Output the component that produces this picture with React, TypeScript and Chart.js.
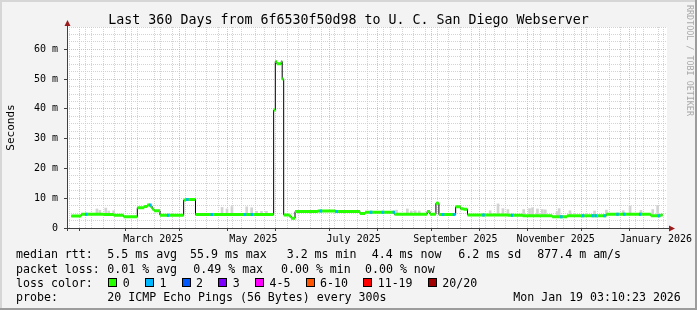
import { useEffect, useRef } from 'react';
import { Chart, registerables } from 'chart.js';

Chart.register(...registerables);

// ---------- text ----------
const TITLE = 'Last 360 Days from 6f6530f50d98 to U. C. San Diego Webserver';
const Y_AXIS_TITLE = 'Seconds';
const WATERMARK = 'RRDTOOL / TOBI OETIKER';

// ---------- x axis (days since 2025-01-01 00:00) ----------
const startDay = 23.13; // Jan 24 2025 03:10
const endDay = 383.13; // Jan 19 2026 03:10
const monthStartDays = [31, 59, 90, 120, 151, 181, 212, 243, 273, 304, 334, 365];
const monthLabelDays = [73, 134, 195, 257, 318, 379];
const monthLabels = ['March 2025', 'May 2025', 'July 2025', 'September 2025', 'November 2025', 'January 2026'];
const firstSundayDay = 4; // 2025-01-05

// ---------- y axis (ms) ----------
const yMax = 67.5;
const yTickValues = [0, 2.5, 5, 7.5, 10, 12.5, 15, 17.5, 20, 22.5, 25, 27.5, 30, 32.5, 35, 37.5, 40, 42.5, 45, 47.5, 50, 52.5, 55, 57.5, 60, 62.5, 65, 67.5];

// ---------- median rtt (step series) ----------
const medianDays = [23.1, 29.1, 42.9, 48.9, 54.9, 63.3, 67.5, 69.3, 71.1, 72.3, 73.5, 77.1, 91.5, 92.7, 98.7, 146.3, 147.3, 148.2, 150.9, 151.5, 152.4, 155.7, 156.9, 159.3, 173.1, 183.9, 198.9, 201.9, 219.9, 239.7, 241.5, 245.1, 246.9, 257.1, 260.1, 261.9, 264.3, 288.9, 297.9, 315.9, 324.9, 348.9, 375.9, 381.9];
const medianMs = [4.0, 4.6, 4.5, 4.3, 3.8, 6.8, 7.2, 7.7, 7.3, 6.4, 5.8, 4.3, 9.4, 9.6, 4.5, 39.6, 55.9, 55.2, 55.9, 50.0, 4.4, 4.0, 3.3, 5.5, 5.7, 5.5, 4.9, 5.3, 4.6, 5.5, 4.6, 8.3, 4.5, 7.1, 6.5, 6.3, 4.4, 4.3, 4.1, 3.8, 4.1, 4.6, 4.1, 4.4];

// ---------- periods with 1 lost ping ----------
const loss1Days = [31.5, 70.5, 81.3, 93.0, 107.9, 128.1, 132.3, 174.3, 183.9, 204.9, 212.1, 218.7, 248.7, 255.3, 273.3, 290.7, 320.7, 333.9, 339.9, 341.7, 347.1, 354.9, 359.1, 368.7, 380.1];

// ---------- smoke (ping spread) ----------
const smokeDays = [38.7, 40.5, 44.1, 45.9, 48.9, 114.9, 117.9, 120.9, 129.9, 132.9, 135.9, 138.9, 141.9, 221.1, 227.7, 230.1, 232.5, 234.9, 278.1, 282.9, 285.9, 288.9, 298.5, 302.1, 303.9, 306.9, 309.9, 311.7, 318.9, 320.1, 326.7, 341.7, 348.9, 359.1, 363.3, 369.9, 377.1, 380.1];
const smokeLow = [4.5, 4.5, 4.5, 4.3, 4.3, 4.5, 4.5, 4.5, 4.5, 4.5, 4.5, 4.5, 4.5, 4.6, 4.6, 4.6, 4.6, 4.6, 4.4, 4.4, 4.4, 4.3, 4.1, 4.1, 4.1, 4.1, 4.1, 4.1, 3.8, 3.8, 4.1, 4.1, 4.6, 4.6, 4.6, 4.6, 4.6, 4.4];
const smokeHigh = [6.4, 5.9, 6.7, 5.7, 5.8, 6.9, 6.4, 7.2, 7.1, 6.8, 5.6, 5.6, 5.6, 6.0, 6.4, 5.7, 5.8, 5.7, 5.8, 8.1, 6.5, 6.2, 6.2, 6.5, 6.8, 6.4, 6.2, 6.1, 5.5, 6.5, 5.8, 5.7, 6.0, 5.8, 7.4, 5.9, 6.2, 7.6];

// ---------- legend ----------
const rttLabels = ['5.5 ms avg', '55.9 ms max', '3.2 ms min', '4.4 ms now', '6.2 ms sd', '877.4 m am/s'];
const lossLabels = ['0.01 % avg', '0.49 % max', '0.00 % min', '0.00 % now'];
const lossColorLabels = ['0', '1', '2', '3', '4-5', '6-10', '11-19', '20/20'];
const lossColors = ['#26ff00', '#00b8ff', '#0059ff', '#7e00ff', '#ff00fe', '#ff5500', '#ff0000', '#a10000'];
const probeText = '20 ICMP Echo Pings (56 Bytes) every 300s';
const timestampText = 'Mon Jan 19 03:10:23 2026';

// ---------- styling ----------
const MONO = '"DejaVu Sans Mono", monospace';
const MAJOR_GRID = 'rgba(240,150,150,0.7)';
const MINOR_GRID = 'rgba(200,200,200,0.8)';
const AXIS_COLOR = '#404040';
const ARROW_COLOR = '#9b1c1c';
const rttX = [107.3, 190, 286.7, 371.7, 458.3, 537.3];
const lossX = [107.3, 193.3, 281, 365];

function medianAt(day: number): number {
  let v = medianMs[0];
  for (let i = 0; i < medianDays.length; i++) {
    if (medianDays[i] <= day) v = medianMs[i];
  }
  return v;
}

function buildXTicks() {
  const set = new Set<number>();
  monthStartDays.forEach((d) => set.add(d));
  monthLabelDays.forEach((d) => set.add(d));
  for (let d = firstSundayDay; d <= endDay; d += 7) {
    if (d >= startDay) set.add(d);
  }
  return Array.from(set).sort((a, b) => a - b);
}

const decorPlugin = {
  id: 'rrdDecor',
  beforeDraw(chart: any) {
    const { ctx, chartArea: a, width, height } = chart;
    ctx.save();
    ctx.fillStyle = '#f3f3f3';
    ctx.fillRect(0, 0, width, height);
    ctx.fillStyle = '#d6d6d6';
    ctx.fillRect(0, 0, width, 2);
    ctx.fillRect(0, 0, 2, height);
    ctx.fillStyle = '#9c9c9c';
    ctx.fillRect(0, height - 2, width, 2);
    ctx.fillRect(width - 2, 0, 2, height);
    ctx.fillStyle = '#ffffff';
    ctx.fillRect(a.left, a.top, a.right - a.left, a.bottom - a.top);
    ctx.restore();
  },
  afterDatasetsDraw(chart: any) {
    const { ctx, chartArea: a } = chart;
    ctx.save();
    ctx.strokeStyle = AXIS_COLOR;
    ctx.lineWidth = 1;
    ctx.beginPath();
    ctx.moveTo(a.left + 0.5, a.bottom + 3);
    ctx.lineTo(a.left + 0.5, a.top - 4);
    ctx.moveTo(a.left - 3, a.bottom + 0.5);
    ctx.lineTo(a.right + 3, a.bottom + 0.5);
    ctx.stroke();
    ctx.fillStyle = ARROW_COLOR;
    ctx.beginPath();
    ctx.moveTo(a.left + 0.5, a.top - 7);
    ctx.lineTo(a.left - 2.5, a.top - 1);
    ctx.lineTo(a.left + 3.5, a.top - 1);
    ctx.closePath();
    ctx.fill();
    ctx.beginPath();
    ctx.moveTo(a.right + 8, a.bottom + 0.5);
    ctx.lineTo(a.right + 2, a.bottom - 2.5);
    ctx.lineTo(a.right + 2, a.bottom + 3.5);
    ctx.closePath();
    ctx.fill();
    ctx.restore();
  },
  afterDraw(chart: any) {
    const { ctx, width } = chart;
    ctx.save();
    // title
    ctx.fillStyle = '#000';
    ctx.font = `13.3px ${MONO}`;
    ctx.textAlign = 'center';
    ctx.textBaseline = 'alphabetic';
    ctx.fillText(TITLE, width / 2, 23.5);

    // watermark
    ctx.save();
    ctx.translate(686, 5);
    ctx.rotate(Math.PI / 2);
    ctx.fillStyle = '#a8a8a8';
    ctx.font = `8.4px ${MONO}`;
    ctx.textAlign = 'left';
    ctx.textBaseline = 'middle';
    ctx.fillText(WATERMARK, 0, -3.5);
    ctx.restore();

    // legend
    ctx.font = `11.6px ${MONO}`;
    ctx.textAlign = 'left';
    ctx.textBaseline = 'alphabetic';
    ctx.fillStyle = '#000';
    const rows = [258.3, 272.6, 286.9, 301.2];
    ctx.fillText('median rtt:', 16, rows[0]);
    rttLabels.forEach((t, i) => ctx.fillText(t, rttX[i], rows[0]));
    ctx.fillText('packet loss:', 16, rows[1]);
    lossLabels.forEach((t, i) => ctx.fillText(t, lossX[i], rows[1]));
    ctx.fillText('loss color:', 16, rows[2]);
    let x = 108.3;
    lossColorLabels.forEach((t, i) => {
      ctx.fillStyle = lossColors[i];
      ctx.fillRect(Math.round(x), 278, 9, 9);
      ctx.strokeStyle = '#000';
      ctx.lineWidth = 1;
      ctx.strokeRect(Math.round(x) + 0.5, 278.5, 8, 8);
      ctx.fillStyle = '#000';
      const lx = x + 14.4;
      ctx.fillText(t, lx, rows[2]);
      x = lx + ctx.measureText(t).width + 15.3;
    });
    ctx.fillText('probe:', 16, rows[3]);
    ctx.fillText(probeText, 107.3, rows[3]);
    ctx.fillText(timestampText, 513.3, rows[3]);
    ctx.restore();
  },
};

export default function App() {
  const ref = useRef<HTMLCanvasElement | null>(null);

  useEffect(() => {
    document.body.style.margin = '0';
    const canvas = ref.current;
    if (!canvas) return;

    const blackData = medianDays.map((d, i) => ({ x: d, y: medianMs[i] }));
    blackData.push({ x: endDay, y: medianMs[medianMs.length - 1] });

    const greenData: { x: number; y: number | null }[] = [];
    medianDays.forEach((d, i) => {
      const next = i < medianDays.length - 1 ? medianDays[i + 1] : endDay;
      greenData.push({ x: d, y: medianMs[i] }, { x: next, y: medianMs[i] }, { x: next, y: null });
    });

    const blueData: { x: number; y: number | null }[] = [];
    loss1Days.forEach((d) => {
      const v = medianAt(d);
      blueData.push({ x: d, y: v }, { x: d + 1.5, y: v }, { x: d + 1.5, y: null });
    });

    const smokeData = smokeDays.map((d, i) => ({ x: d, y: [smokeLow[i], smokeHigh[i]] }));

    const xTicks = buildXTicks();

    const chart = new Chart(canvas, {
      type: 'line',
      data: {
        datasets: [
          {
            type: 'bar',
            data: smokeData as any,
            backgroundColor: '#d2d2d2',
            barThickness: 2,
            order: 10,
          } as any,
          {
            data: blackData,
            borderColor: '#000000',
            borderWidth: 1,
            stepped: true,
            pointRadius: 0,
            fill: false,
            order: 5,
          },
          {
            data: greenData as any,
            borderColor: lossColors[0],
            borderWidth: 3,
            pointRadius: 0,
            fill: false,
            spanGaps: false,
            borderCapStyle: 'butt',
            order: 3,
          },
          {
            data: blueData as any,
            borderColor: lossColors[1],
            borderWidth: 3,
            pointRadius: 0,
            fill: false,
            spanGaps: false,
            borderCapStyle: 'butt',
            order: 1,
          },
        ],
      },
      options: {
        responsive: false,
        animation: false,
        devicePixelRatio: 1,
        events: [],
        layout: { padding: { top: 27, right: 30, bottom: 0, left: 0 } },
        plugins: {
          legend: { display: false },
          title: { display: false },
          tooltip: { enabled: false },
        },
        scales: {
          x: {
            type: 'linear',
            min: startDay,
            max: endDay,
            afterBuildTicks: (scale: any) => {
              scale.ticks = xTicks.map((v) => ({ value: v }));
            },
            afterFit: (scale: any) => {
              scale.height = 82;
            },
            border: { display: false, dash: [1, 1] },
            grid: {
              color: (c: any) => {
                const v = c.tick ? c.tick.value : 0;
                if (monthLabelDays.includes(v)) return 'rgba(0,0,0,0)';
                if (monthStartDays.includes(v)) return MAJOR_GRID;
                return MINOR_GRID;
              },
              tickColor: (c: any) => {
                const v = c.tick ? c.tick.value : 0;
                return monthStartDays.includes(v) ? AXIS_COLOR : 'rgba(0,0,0,0)';
              },
              tickLength: 3,
              lineWidth: 1,
            },
            ticks: {
              autoSkip: false,
              maxRotation: 0,
              minRotation: 0,
              padding: 2,
              color: '#000',
              font: { family: MONO, size: 10 },
              callback: (v: any) => {
                const i = monthLabelDays.indexOf(Number(v));
                return i >= 0 ? monthLabels[i] : '';
              },
            },
          },
          y: {
            type: 'linear',
            min: 0,
            max: yMax,
            afterBuildTicks: (scale: any) => {
              scale.ticks = yTickValues.map((v) => ({ value: v }));
            },
            afterFit: (scale: any) => {
              scale.width = 67;
            },
            border: { display: false, dash: [1, 1] },
            grid: {
              color: (c: any) => {
                const v = c.tick ? c.tick.value : 0;
                return v % 10 === 0 ? MAJOR_GRID : MINOR_GRID;
              },
              tickColor: (c: any) => {
                const v = c.tick ? c.tick.value : 0;
                return v % 10 === 0 ? AXIS_COLOR : 'rgba(0,0,0,0)';
              },
              tickLength: 3,
              lineWidth: 1,
            },
            title: {
              display: true,
              text: Y_AXIS_TITLE,
              color: '#000',
              font: { family: MONO, size: 11 },
              padding: { top: 5, bottom: 0 },
            },
            ticks: {
              autoSkip: false,
              padding: 6,
              color: '#000',
              font: { family: MONO, size: 10 },
              callback: (v: any) => {
                const n = Number(v);
                if (n % 10 !== 0) return '';
                return n === 0 ? '0' : `${n} m`;
              },
            },
          },
        },
      },
      plugins: [decorPlugin],
    });

    return () => chart.destroy();
  }, []);

  return <canvas ref={ref} width={697} height={310} style={{ display: 'block' }} />;
}
